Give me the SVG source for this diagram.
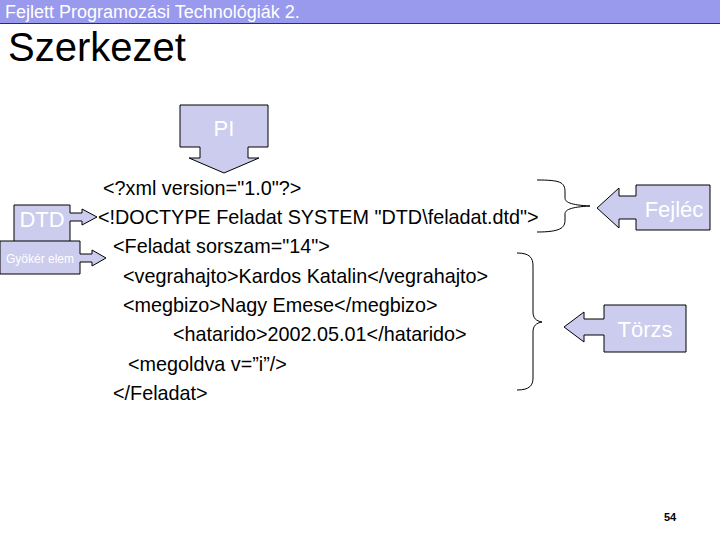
<svg xmlns="http://www.w3.org/2000/svg" width="720" height="540" viewBox="0 0 720 540">
<style>
.box{fill:#ccccee;stroke:#000;stroke-width:1}
.lbl{font-family:"Liberation Sans",Arial,sans-serif;fill:#fff}
.code{font-family:"Liberation Sans",Arial,sans-serif;font-size:19.8px;fill:#000}
.br{fill:none;stroke:#000;stroke-width:1}
</style>
<rect x="0" y="0" width="720" height="540" fill="#fff"/>
<rect x="0" y="0" width="720" height="23" fill="#9999ee"/>
<line x1="0" y1="23.5" x2="720" y2="23.5" stroke="#333" stroke-width="1"/>
<text x="5" y="18" font-family="Liberation Sans,Arial,sans-serif" font-size="18" fill="#fff">Fejlett Programozási Technológiák 2.</text>
<text x="8" y="61" font-family="Liberation Sans,Arial,sans-serif" font-size="40" fill="#000">Szerkezet</text>
<g id="pi">
<path class="box" d="M180,105 H268 V147 H248 V158 H259 L224,173 L189,158 H200 V147 H180 Z"/>
<text class="lbl" x="224" y="136" font-size="22" text-anchor="middle">PI</text>
</g>
<g id="dtd">
<path class="box" d="M14,205 H70 V213 H82 V209 L97,217 L82,225 V221 H70 V242 H14 Z"/>
<text class="lbl" x="42" y="227" font-size="22" text-anchor="middle">DTD</text>
</g>
<g id="gyoker">
<path class="box" d="M0,241 H80 V254 H92 V250 L106,258 L92,266 V262 H80 V274 H0 Z"/>
<text class="lbl" x="40" y="263" font-size="12" text-anchor="middle">Gyökér elem</text>
</g>
<g id="code">
<text class="code" x="103" y="195">&lt;?xml version="1.0"?&gt;</text>
<text class="code" x="98" y="224">&lt;!DOCTYPE Feladat SYSTEM "DTD\feladat.dtd"&gt;</text>
<text class="code" x="113" y="253">&lt;Feladat sorszam="14"&gt;</text>
<text class="code" x="123" y="283">&lt;vegrahajto&gt;Kardos Katalin&lt;/vegrahajto&gt;</text>
<text class="code" x="123" y="312">&lt;megbizo&gt;Nagy Emese&lt;/megbizo&gt;</text>
<text class="code" x="173" y="341">&lt;hatarido&gt;2002.05.01&lt;/hatarido&gt;</text>
<text class="code" x="128" y="371">&lt;megoldva v=”i”/&gt;</text>
<text class="code" x="113" y="400">&lt;/Feladat&gt;</text>
</g>
<g id="connectors">
<path class="br" d="M537,180 C560,180 565,182 565,192 V198 C565,202 570,205 590,206 C570,207 565,210 565,214 V220 C565,228 560,232 537,232"/>
<path class="br" d="M517,253 C530,253 533,258 533,266 V312 C533,318 536,321 542,322 C536,323 533,326 533,332 V378 C533,385 530,390 517,390"/>
</g>
<g id="fejlec">
<path class="box" d="M636,185 H710 V230 H636 V219 H619 V228 L597,208 L619,188 V196 H636 Z"/>
<text class="lbl" x="674" y="217" font-size="22" text-anchor="middle">Fejléc</text>
</g>
<g id="torzs">
<path class="box" d="M604,305 H686 V352 H604 V335 H584 V342 L564,327 L584,312 V319 H604 Z"/>
<text class="lbl" x="645" y="337" font-size="22" text-anchor="middle">Törzs</text>
</g>
<text x="670" y="521" font-family="Liberation Sans,Arial,sans-serif" font-size="11" font-weight="bold" text-anchor="middle">54</text>
</svg>
